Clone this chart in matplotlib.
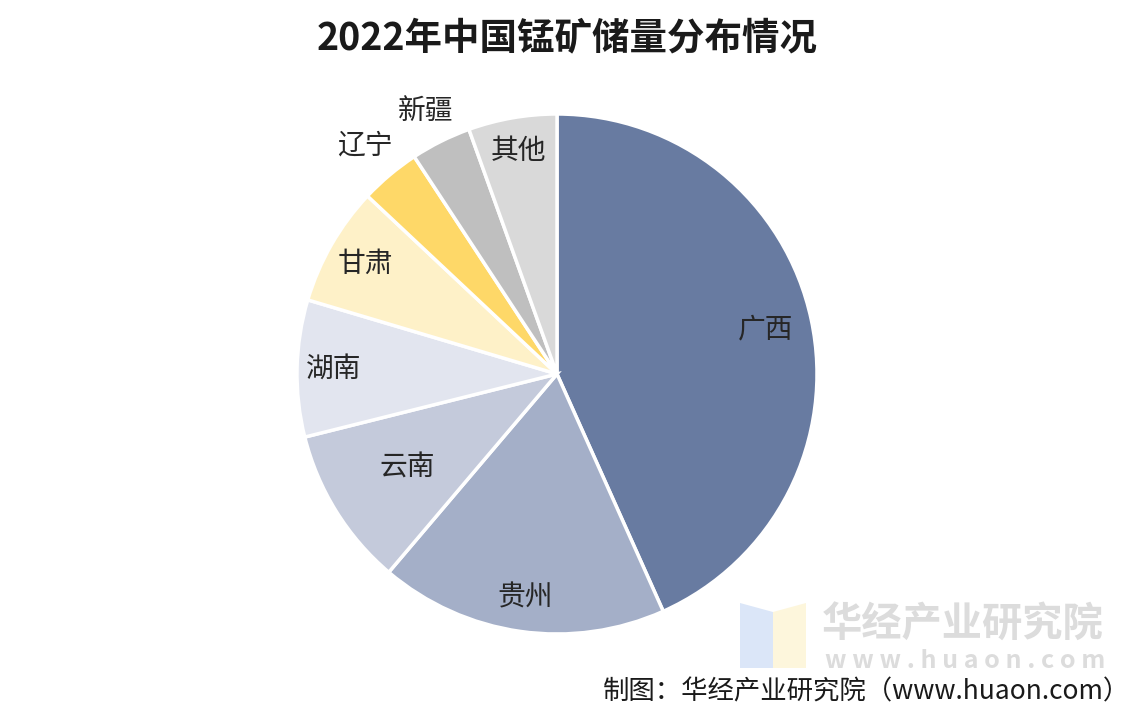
import matplotlib.pyplot as plt
import numpy as np
from matplotlib.patches import Polygon

plt.rcParams['font.family'] = ['Noto Sans CJK SC', 'DejaVu Sans']

regions = ["广西", "贵州", "云南", "湖南", "甘肃", "辽宁", "新疆", "其他"]
shares = [43.3, 17.9, 9.9, 8.5, 7.4, 3.75, 3.75, 5.5]
colors = ["#687ba1", "#a4afc8", "#c4cadb", "#e2e5ef", "#fef1c8",
          "#fed868", "#bfbfbf", "#d9d9d9"]
label_r = [0.82, 0.87, 0.68, 0.86, 0.85, 1.15, 1.13, 0.87]

W, H = 1142, 718
fig = plt.figure(figsize=(W / 100, H / 100), dpi=100)
cx, cy, R = 557, 374, 260
ax = fig.add_axes([(cx - R) / W, (H - cy - R) / H, 2 * R / W, 2 * R / H])

wedges, _ = ax.pie(shares, colors=colors, startangle=90, counterclock=False,
                   radius=1, wedgeprops=dict(edgecolor="white", linewidth=2.5))
ax.set_xlim(-1, 1)
ax.set_ylim(-1, 1)
ax.set_aspect("equal")
ax.axis("off")

for w, name, r in zip(wedges, regions, label_r):
    ang = np.deg2rad((w.theta1 + w.theta2) / 2)
    ax.text(r * np.cos(ang), r * np.sin(ang), name, ha="center", va="center",
            fontsize=20, color="#262626")

fig.text(567 / W, 1 - 38 / H, "2022年中国锰矿储量分布情况", ha="center", va="center",
         fontsize=27, fontweight="bold", color="#1a1a1a")

# watermark logo + text
for pts, fc in [([[740, 603], [773, 612], [773, 668], [740, 668]], "#dbe6f8"),
                ([[773, 612], [806, 603], [806, 668], [773, 668]], "#fdf6dc")]:
    pts = [[x / W, 1 - y / H] for x, y in pts]
    fig.patches.append(Polygon(pts, closed=True, transform=fig.transFigure,
                               facecolor=fc, edgecolor="none"))

fig.text(963 / W, 1 - 625 / H, "华经产业研究院", ha="center", va="center",
         fontsize=29, fontweight="bold", color="#dcdcdc")
fig.text(965 / W, 1 - 661 / H, "w w w . h u a o n . c o m", ha="center", va="center",
         fontsize=18, fontweight="bold", color="#dcdcdc")

fig.text(1130 / W, 1 - 692 / H, "制图：华经产业研究院（www.huaon.com）", ha="right",
         va="center", fontsize=19, color="#1a1a1a")

fig.savefig("out.png", dpi=100, facecolor="white")
